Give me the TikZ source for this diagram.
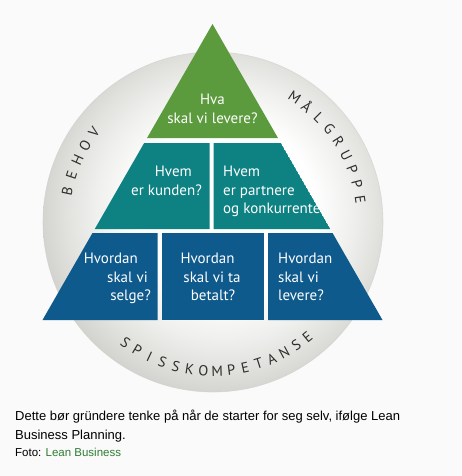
\documentclass[tikz,border=0pt]{standalone}
\usepackage{fontspec}
\setmainfont{Liberation Sans}
\newfontfamily\pyr{PT Sans}
\usetikzlibrary{calc}
\definecolor{bg}{HTML}{FAFAFA}
\definecolor{pgreen}{HTML}{5C9B3D}
\definecolor{pteal}{HTML}{0E8282}
\definecolor{pblue}{HTML}{0F5A8C}
\definecolor{ringtxt}{HTML}{2D2D2D}
\definecolor{linkgreen}{HTML}{2E7D32}
\definecolor{ringA}{HTML}{EFEFED}
\definecolor{ringB}{HTML}{E1E1DE}
\definecolor{ringC}{HTML}{CDCDC9}
\pgfdeclareradialshading{discshade}{\pgfpoint{2.5bp}{2.5bp}}{color(0bp)=(white); color(13bp)=(white); color(19bp)=(ringA); color(23bp)=(ringB); color(28bp)=(ringC); color(50bp)=(ringC)}
\tikzset{
  ptext/.style={text=white, font=\pyr\fontsize{15}{18}\selectfont, inner sep=0pt},
  ringletter/.style={text=ringtxt, font=\pyr\fontsize{14.5}{16}\selectfont, inner sep=0pt},
  captext/.style={font=\fontsize{13}{15}\selectfont, inner sep=0pt, anchor=base west},
}
\begin{document}
\begin{tikzpicture}[x=1pt,y=-1pt]
\fill[bg] (0,0) rectangle (461,476);
\useasboundingbox (0,0) rectangle (461,476);
\coordinate (c) at (213,222);
\shade[shading=discshade] (c) circle (170pt);
\draw[ringC, line width=0.6pt, opacity=0.6] (c) circle (170pt);
% pyramid
\fill[pgreen] (212.5,24) -- (277.97,138) -- (147.03,138) -- cycle;
\fill[pteal] (144.16,143) -- (209.5,143) -- (209.5,229) -- (94.77,229) -- cycle;
\begin{scope}
\clip (213.5,143) -- (280.84,143) -- (330.23,229) -- (213.5,229) -- cycle;
\fill[pteal] (213.5,143) -- (280.84,143) -- (330.23,229) -- (213.5,229) -- cycle;
\node[ptext, anchor=base west] (r1) at (223,176) {Hvem};
\node[ptext, anchor=base west] (r2) at (223,195) {er partnere};
\node[ptext, anchor=base west] (r3) at (223,213) {og konkurrenter};
\end{scope}
\fill[pblue] (92.47,233) -- (157.5,233) -- (157.5,320) -- (42.5,320) -- cycle;
\fill[pblue] (161.5,233) -- (264,233) -- (264,320) -- (161.5,320) -- cycle;
\fill[pblue] (268,233) -- (332.53,233) -- (382.5,320) -- (268,320) -- cycle;
% texts
\node[ptext, anchor=base] (t1) at (212.5,105) {Hva};
\node[ptext, anchor=base] (t2) at (212.5,124) {skal vi levere?};
\node[ptext, anchor=base east] (l1) at (192,176) {Hvem};
\node[ptext, anchor=base east] (l2) at (202,195) {er kunden?};
\node[ptext, anchor=base east] (a1) at (138,263) {Hvordan};
\node[ptext, anchor=base east] (a2) at (148,282) {skal vi};
\node[ptext, anchor=base east] (a3) at (151,300) {selge?};
\node[ptext, anchor=base] (b1) at (207.5,263) {Hvordan};
\node[ptext, anchor=base] (b2) at (212,282) {skal vi ta};
\node[ptext, anchor=base] (b3) at (213,300) {betalt?};
\node[ptext, anchor=base west] (d1) at (278,263) {Hvordan};
\node[ptext, anchor=base west] (d2) at (278,282) {skal vi};
\node[ptext, anchor=base west] (d3) at (278,300) {levere?};
% ring words
\foreach \ch [count=\i from 0, evaluate=\i as \a using 168-6.25*\i] in {B,E,H,O,V}
  \node[ringletter, rotate=\a-90] (beh\i) at ($(c)+(\a:149pt)$) {\ch};
\foreach \ch [count=\i from 0, evaluate=\i as \a using 56.7-6.01*\i] in {M,Å,L,G,R,U,P,P,E}
  \node[ringletter, rotate=\a-90] (mal\i) at ($(c)+(\a:149pt)$) {\ch};
\foreach \ch [count=\i from 0, evaluate=\i as \a using 234+5.38*\i] in {S,P,I,S,S,K,O,M,P,E,T,A,N,S,E}
  \node[ringletter, rotate=\a+90] (spi\i) at ($(c)+(\a:149pt)$) {\ch};
% caption
\node[captext] (cap1) at (15,420) {Dette bør gründere tenke på når de starter for seg selv, ifølge Lean};
\node[captext] (cap2) at (15,439) {Business Planning.};
\node[captext, font=\fontsize{11.5}{13}\selectfont] (foto) at (15,456.5) {Foto: \textcolor{linkgreen}{Lean Business}};
\end{tikzpicture}
\end{document}
